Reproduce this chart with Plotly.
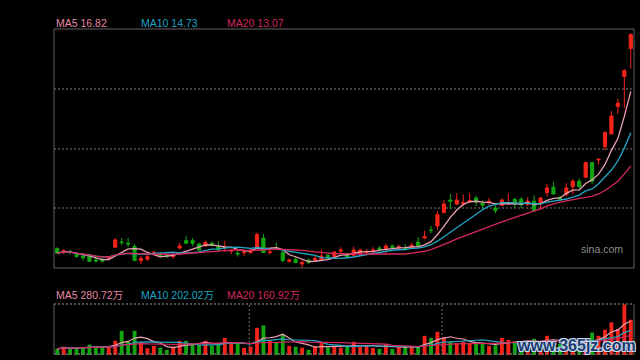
import numpy as np
import pandas as pd
import plotly.graph_objects as go

# ---------------- data ----------------
open_ = [8.89, 8.69, 8.75, 8.59, 8.52, 8.59, 8.32, 8.36, 8.39, 8.96,
         9.22, 9.16, 8.99, 8.29, 8.36, 8.62, 8.59, 8.56, 8.49, 8.92,
         9.29, 9.29, 9.12, 9.02, 9.16, 8.99, 8.92, 8.76, 8.66, 8.69,
         8.69, 8.92, 9.42, 8.69, 8.92, 8.69, 8.26, 8.36, 8.12, 8.32,
         8.32, 8.32, 8.56, 8.49, 8.76, 8.59, 8.56, 8.62, 8.69, 8.76,
         8.92, 8.89, 9.02, 8.92, 8.92, 8.92, 9.22, 9.42, 9.82, 10.02,
         10.69, 11.32, 11.12, 11.12, 11.22, 11.42, 11.16, 11.19, 10.92, 11.06,
         11.12, 11.36, 11.36, 11.09, 11.26, 11.12, 11.69, 11.96, 11.46, 11.59,
         11.99, 12.26, 12.46, 13.19, 13.32, 13.99, 14.62, 15.99, 17.49, 18.89]
close = [8.66, 8.79, 8.70, 8.49, 8.42, 8.25, 8.27, 8.26, 8.49, 9.32,
         9.19, 9.12, 8.29, 8.39, 8.49, 8.69, 8.52, 8.49, 8.56, 9.02,
         9.16, 9.16, 8.82, 9.19, 9.06, 8.82, 8.96, 8.79, 8.62, 8.72,
         8.82, 9.59, 8.69, 8.72, 8.89, 8.29, 8.32, 8.19, 8.19, 8.19,
         8.39, 8.52, 8.39, 8.72, 8.82, 8.46, 8.82, 8.82, 8.76, 8.82,
         8.86, 9.02, 8.96, 8.99, 8.86, 9.06, 8.99, 9.49, 9.79, 10.59,
         11.12, 11.26, 11.32, 11.19, 11.29, 11.22, 11.06, 11.26, 10.79, 11.32,
         11.19, 11.12, 11.09, 11.26, 10.79, 11.42, 11.92, 11.62, 11.36, 11.92,
         12.26, 11.99, 13.19, 12.26, 13.36, 14.69, 15.52, 16.16, 17.79, 19.59]
high = [8.96, 8.86, 8.82, 8.66, 8.62, 8.62, 8.46, 8.39, 8.52, 9.42,
        9.42, 9.42, 9.12, 8.52, 8.59, 8.79, 8.72, 8.67, 8.66, 9.19,
        9.52, 9.42, 9.19, 9.29, 9.26, 9.26, 9.29, 8.89, 8.79, 8.86,
        8.89, 9.69, 9.62, 8.89, 9.19, 8.79, 8.39, 8.46, 8.32, 8.39,
        8.52, 8.82, 8.62, 8.76, 8.96, 8.69, 8.99, 8.89, 8.86, 8.96,
        9.02, 9.12, 9.09, 9.09, 9.12, 9.19, 9.46, 9.79, 10.02, 10.76,
        11.32, 11.62, 11.66, 11.59, 11.66, 11.52, 11.29, 11.42, 11.06, 11.39,
        11.62, 11.42, 11.46, 11.46, 11.56, 11.46, 12.12, 12.22, 11.49, 12.16,
        12.36, 12.39, 13.22, 13.22, 13.36, 14.76, 15.76, 16.39, 17.86, 19.66]
low = [8.62, 8.62, 8.59, 8.42, 8.29, 8.22, 8.19, 8.19, 8.32, 8.95,
       9.06, 8.96, 8.28, 8.12, 8.26, 8.56, 8.46, 8.42, 8.39, 8.86,
       9.12, 9.02, 8.79, 8.99, 8.99, 8.76, 8.72, 8.62, 8.49, 8.52,
       8.62, 8.92, 8.66, 8.59, 8.86, 8.19, 8.19, 8.16, 7.92, 8.12,
       8.26, 8.29, 8.36, 8.46, 8.66, 8.39, 8.52, 8.59, 8.59, 8.69,
       8.76, 8.62, 8.89, 8.82, 8.79, 8.89, 8.99, 9.36, 9.66, 9.82,
       10.66, 10.86, 11.06, 11.02, 11.16, 11.02, 10.86, 11.06, 10.66, 11.02,
       11.09, 10.92, 10.92, 11.02, 10.72, 10.82, 11.49, 11.59, 11.26, 11.49,
       11.59, 11.92, 12.46, 12.12, 13.09, 13.79, 14.62, 15.62, 15.92, 17.89]
volume = [50, 69, 50, 61, 61, 86, 69, 61, 69, 117,
          200, 114, 200, 109, 56, 75, 61, 42, 69, 117,
          117, 86, 86, 117, 78, 86, 142, 98, 98, 58,
          69, 225, 245, 117, 103, 173, 75, 69, 61, 42,
          75, 103, 64, 75, 61, 69, 109, 69, 81, 58,
          50, 92, 50, 64, 69, 75, 69, 159, 142, 192,
          148, 114, 98, 109, 98, 92, 92, 75, 81, 142,
          125, 109, 100, 109, 134, 100, 159, 125, 92, 117,
          84, 67, 131, 186, 159, 209, 270, 215, 418, 292]  # 万

ma_windows = [5, 10, 20]
price_ma_labels = ["MA5 16.82", "MA10 14.73", "MA20 13.07"]
volume_ma_labels = ["MA5 280.72万", "MA10 202.02万", "MA20 160.92万"]
ma_line_colors = ["#eba2b6", "#22a7c8", "#d6285c"]
ma_text_colors = ["#e488a4", "#1fa2c2", "#d0245a"]
watermark = "sina.com"
site_mark = "www.365jz.com"

# ---------------- figure ----------------
UP, DOWN = "#f5241a", "#12a512"
n = len(close)
x = list(range(n))
df = pd.DataFrame({"o": open_, "h": high, "l": low, "c": close, "v": volume})

fig = go.Figure()
fig.add_trace(go.Candlestick(
    x=x, open=df.o, high=df.h, low=df.l, close=df.c,
    increasing=dict(line=dict(color=UP, width=1), fillcolor=UP),
    decreasing=dict(line=dict(color=DOWN, width=1), fillcolor=DOWN),
    whiskerwidth=0, xaxis="x", yaxis="y", hoverinfo="skip"))
for w, col in zip(ma_windows, ma_line_colors):
    fig.add_trace(go.Scatter(x=x, y=df.c.rolling(w, min_periods=1).mean(),
                             mode="lines", line=dict(color=col, width=1.3),
                             xaxis="x", yaxis="y", hoverinfo="skip"))

vcolors = [UP if c >= o else DOWN for o, c in zip(open_, close)]
fig.add_trace(go.Bar(x=x, y=volume, marker=dict(color=vcolors, line=dict(width=0)),
                     width=0.6, xaxis="x2", yaxis="y2", hoverinfo="skip"))
for w, col in zip(ma_windows, ma_line_colors):
    fig.add_trace(go.Scatter(x=x, y=df.v.rolling(w, min_periods=1).mean(),
                             mode="lines", line=dict(color=col, width=1.2),
                             xaxis="x2", yaxis="y2", hoverinfo="skip"))

lo, hi = 7.92, 19.87
grid = [lo + k * (hi - lo) / 4 for k in (1, 2, 3)]
MAIN_BOT, VOL_TOP = 0.2669, 0.1564

fig.update_layout(
    width=640, height=360, showlegend=False,
    paper_bgcolor="#000000", plot_bgcolor="#000000",
    margin=dict(l=54, r=6, t=29, b=5),
    font=dict(family="Liberation Sans, Arial, Noto Sans CJK SC", size=10.5),
    xaxis=dict(domain=[0, 1], range=[-0.5, n - 0.5], visible=False,
               rangeslider=dict(visible=False), anchor="y"),
    yaxis=dict(domain=[MAIN_BOT, 1], range=[lo, hi], tickvals=grid,
               showticklabels=False, zeroline=False, showline=False,
               gridcolor="#3e3e3e", gridwidth=2, griddash="2px,2px"),
    xaxis2=dict(domain=[0, 1], range=[-0.5, n - 0.5], visible=False,
                rangeslider=dict(visible=False), anchor="y2", matches="x"),
    yaxis2=dict(domain=[0, VOL_TOP], range=[0, 422], showgrid=False,
                showticklabels=False, zeroline=False, showline=False),
    hovermode=False,
)

shapes = [
    dict(type="rect", xref="paper", yref="paper", x0=0, x1=1, y0=MAIN_BOT, y1=1,
         line=dict(color="#626262", width=1)),
    dict(type="line", xref="paper", yref="paper", x0=0, x1=0, y0=0, y1=VOL_TOP,
         line=dict(color="#626262", width=1)),
    dict(type="line", xref="paper", yref="paper", x0=1, x1=1, y0=0, y1=VOL_TOP,
         line=dict(color="#626262", width=1)),
    dict(type="line", xref="paper", yref="paper", x0=0, x1=1, y0=VOL_TOP, y1=VOL_TOP,
         line=dict(color="#6a6a6a", width=1.5, dash="2px,2px")),
    dict(type="line", xref="paper", yref="paper", x0=0, x1=1, y0=0.003, y1=0.003,
         line=dict(color="#6a6a6a", width=1.5, dash="2px,2px")),
]
for xv in (29.8, 59.7):
    shapes.append(dict(type="line", xref="x2", yref="y2 domain", x0=xv, x1=xv, y0=0, y1=1,
                       line=dict(color="#6e6e6e", width=1, dash="2px,2px")))
fig.update_layout(shapes=shapes)

label_x = [0.0, 0.146, 0.294]
ann = []
for lx, t, c in zip(label_x, price_ma_labels, ma_text_colors):
    ann.append(dict(xref="paper", yref="paper", x=lx, y=1.018, text=t, showarrow=False,
                    xanchor="left", yanchor="middle", font=dict(color=c, size=10.5)))
for lx, t, c in zip(label_x, volume_ma_labels, ma_text_colors):
    ann.append(dict(xref="paper", yref="paper", x=lx, y=0.184, text=t, showarrow=False,
                    xanchor="left", yanchor="middle", font=dict(color=c, size=10.5)))
ann.append(dict(xref="paper", yref="paper", x=0.945, y=(355 - 249) / 326, text=watermark,
                showarrow=False, xanchor="center", yanchor="middle",
                font=dict(color="#8c8c8c", size=10.5)))
ann.append(dict(xref="paper", yref="paper", x=(576 - 54) / 580, y=(355 - 345) / 326,
                text="<b>" + site_mark + "</b>", showarrow=False, xanchor="center",
                yanchor="middle",
                font=dict(color="#1d3a6e", size=16, family="Liberation Sans, Arial",
                          shadow="1px 1px 0 #c8dcf0, -1px -1px 0 #c8dcf0, 1px -1px 0 #c8dcf0, -1px 1px 0 #c8dcf0")))
fig.update_layout(annotations=ann)

fig.write_html("out.html", config={"displayModeBar": False, "staticPlot": True},
               post_script="document.body.style.margin='0';document.body.style.padding='0';"
                           "document.body.style.background='#000';"
                           "document.documentElement.style.overflow='hidden';")
